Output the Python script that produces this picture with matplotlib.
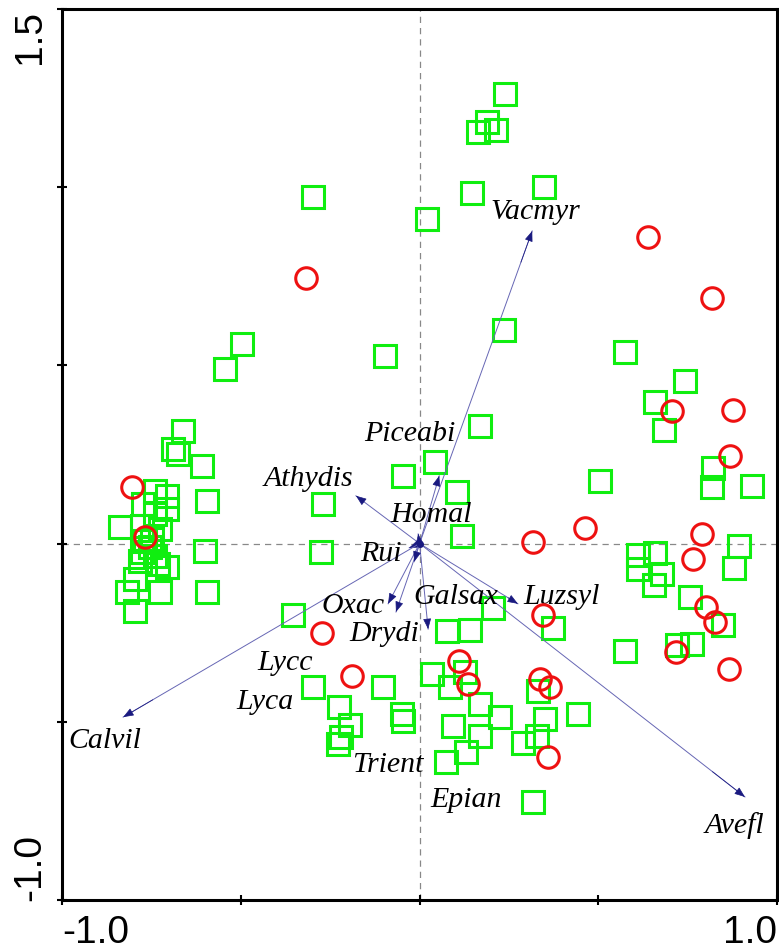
import numpy as np
import matplotlib
matplotlib.use("Agg")
import matplotlib.pyplot as plt

# ordination biplot: sites (squares / circles) and species arrows

# sites, group 1 (green squares)
sq_x = [0.239, 0.189, 0.164, 0.214, 0.348, 0.147, 0.021, -0.298, 0.236, -0.096,
        -0.496, -0.544,
        -0.661, -0.689, -0.675, -0.608, -0.740, -0.706, -0.594, -0.773, -0.706, -0.740,
        -0.838, -0.776, -0.748, -0.600, -0.776, -0.740, -0.706, -0.796, -0.818, -0.726,
        -0.594, -0.796, -0.768, -0.754, -0.782, -0.731, -0.726,
        0.169, 0.043, -0.046, 0.105, -0.270, 0.119, -0.276, 0.505, -0.354, 0.077,
        0.141, 0.206, 0.373,
        0.575, 0.743, 0.659, 0.684, 0.821, 0.818, 0.930, 0.894, 0.611, 0.659,
        0.611, 0.678, 0.656, 0.880, 0.757, 0.849, 0.575, 0.720, 0.762,
        -0.298, -0.102, 0.035, 0.127, 0.085, 0.169, 0.331, -0.225, -0.194, -0.049,
        -0.046, 0.094, 0.225, 0.351, 0.443, 0.169, 0.329, 0.290, -0.228, -0.220,
        0.130, 0.074, 0.317]
sq_y = [1.262, 1.183, 1.155, 1.161, 1.001, 0.984, 0.911, 0.973, 0.599, 0.526,
        0.560, 0.490,
        0.316, 0.265, 0.251, 0.218, 0.148, 0.134, 0.120, 0.111, 0.097, 0.083,
        0.047, 0.049, 0.013, -0.021, -0.024, -0.035, -0.066, -0.099, -0.136, -0.136,
        -0.136, -0.189, 0.007, -0.010, -0.049, -0.057, 0.041,
        0.330, 0.229, 0.190, 0.145, 0.111, 0.021, -0.024, 0.176, -0.200, -0.245,
        -0.242, -0.181, -0.237,
        0.538, 0.456, 0.397, 0.319, 0.212, 0.159, 0.162, -0.007, -0.032, -0.026,
        -0.071, -0.085, -0.116, -0.068, -0.150, -0.228, -0.301, -0.285, -0.282,
        -0.402, -0.402, -0.366, -0.360, -0.402, -0.450, -0.414, -0.458, -0.509, -0.478,
        -0.498, -0.512, -0.487, -0.492, -0.478, -0.540, -0.540, -0.560, -0.562, -0.543,
        -0.585, -0.613, -0.725]

# sites, group 2 (red circles)
ci_x = [-0.317, -0.804, -0.768, 0.639, 0.818, 0.706, 0.877, 0.869, 0.463, 0.317,
        0.790, 0.765, 0.801, 0.827, 0.717, 0.866, 0.345, -0.273, -0.189, 0.110,
        0.136, 0.337, 0.365, 0.359]
ci_y = [0.745, 0.159, 0.019, 0.860, 0.689, 0.372, 0.375, 0.246, 0.044, 0.004,
        0.027, -0.043, -0.178, -0.220, -0.304, -0.352, -0.200, -0.251, -0.371, -0.329,
        -0.394, -0.380, -0.402, -0.599]

# species arrows (tips) and their labels
species = ["Vacmyr", "Piceabi", "Athydis", "Homal", "Rui", "Oxac", "Galsax", "Luzsyl",
           "Drydi", "Lycc", "Lyca", "Calvil", "Trient", "Epian", "Avefl"]
spp_x = [0.315, 0.055, -0.178, -0.004, -0.029, -0.088, 0.024, 0.275,
         -0.066, -0.015, 0.0, -0.829, 0.0, 0.0, 0.910]
spp_y = [0.877, 0.190, 0.134, 0.027, -0.012, -0.169, -0.240, -0.169,
         -0.192, -0.051, 0.0, -0.487, 0.0, 0.0, -0.711]
lab_x = [0.323, -0.027, -0.312, 0.032, -0.108, -0.186, 0.102, 0.396,
         -0.099, -0.376, -0.432, -0.880, -0.088, 0.130, 0.880]
lab_y = [0.933, 0.310, 0.184, 0.083, -0.026, -0.172, -0.147, -0.147,
         -0.251, -0.332, -0.442, -0.551, -0.619, -0.717, -0.787]

fig = plt.figure(figsize=(7.79, 9.53), dpi=100)
ax = fig.add_axes([0.0796, 0.0546, 0.918, 0.935])
ax.set_xlim(-1.0, 1.0)
ax.set_ylim(-1.0, 1.5)

# dashed zero lines
ax.axhline(0, color='#888888', lw=0.9, ls=(0, (5, 4)), zorder=1)
ax.axvline(0, color='#888888', lw=0.9, ls=(0, (5, 4)), zorder=1)

ax.plot(sq_x, sq_y, ls='none', marker='s', ms=15.5, mfc='none',
        mec='#10ee10', mew=2.2, zorder=2)

# arrows from origin: thin light shaft, dark head
line_col = '#6666b4'
head_col = '#1a1a80'
for tx, ty in zip(spp_x, spp_y):
    if tx == 0 and ty == 0:
        continue
    ax.plot([0, tx], [0, ty], color=line_col, lw=0.7, zorder=3)
    ax.annotate('', xy=(tx, ty), xytext=(tx * 0.9, ty * 0.9),
                arrowprops=dict(arrowstyle='-|>,head_length=0.65,head_width=0.25',
                                color=head_col, lw=0.5, shrinkA=0, shrinkB=0),
                zorder=3)
ax.plot([0], [0], 'o', color=head_col, ms=4, zorder=3)

for name, lx, ly in zip(species, lab_x, lab_y):
    ax.text(lx, ly, name, family='Liberation Serif', style='italic',
            fontsize=21.5, ha='center', va='center', color='black', zorder=4)

ax.plot(ci_x, ci_y, ls='none', marker='o', ms=15.5, mfc='none',
        mec='#ee1111', mew=2.2, zorder=5)

# axes frame and ticks
for s in ax.spines.values():
    s.set_linewidth(2.2)
ax.set_xticks([-1.0, -0.5, 0.0, 0.5, 1.0], labels=['-1.0', '', '', '', '1.0'])
ax.set_yticks([-1.0, -0.5, 0.0, 0.5, 1.0, 1.5], labels=['-1.0', '', '', '', '', '1.5'])
ax.tick_params(direction='inout', length=6.5, width=1.5, labelsize=28, pad=7)
for t in ax.get_xticklabels() + ax.get_yticklabels():
    t.set_family('Liberation Sans')
xl = ax.get_xticklabels()
xl[0].set_ha('left')
xl[-1].set_ha('right')
yl = ax.get_yticklabels()
for t in yl:
    t.set_rotation(90)
yl[0].set_va('bottom')
yl[-1].set_va('top')

fig.savefig('out.png', dpi=100)
